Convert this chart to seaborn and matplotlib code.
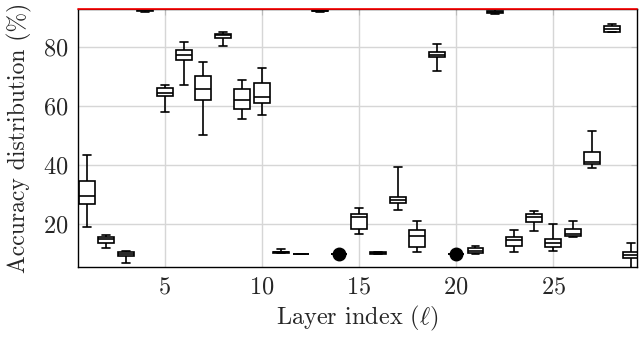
import matplotlib
matplotlib.use("Agg")
import matplotlib.pyplot as plt
import seaborn as sns
import numpy as np
import pandas as pd

# Per-layer box statistics (accuracy in %)
layers = list(range(1, 30))
whisker_low = [19.1, 11.8, 6.7, 91.9, 57.9, 67.1, 50.2, 80.3, 55.8, 57.0,
               10.2, 10.0, 92.0, 10.0, 16.8, 9.9, 24.7, 10.6, 72.0, 10.0,
               10.0, 91.2, 10.6, 17.6, 10.8, 15.7, 38.9, 85.0, 4.0]
q1 = [26.8, 13.5, 9.3, 92.2, 63.5, 75.6, 62.0, 83.2, 59.0, 61.1,
      10.3, 10.0, 92.2, 10.0, 18.5, 10.0, 27.0, 12.3, 76.5, 10.0,
      10.2, 91.7, 12.6, 20.6, 12.3, 15.9, 40.3, 85.2, 8.4]
median = [29.5, 14.9, 10.0, 92.5, 64.5, 77.3, 65.7, 84.1, 62.0, 63.2,
          10.5, 10.0, 92.4, 10.0, 22.5, 10.2, 28.1, 16.0, 77.3, 10.0,
          11.0, 92.0, 14.6, 22.3, 13.7, 16.8, 41.1, 86.3, 9.5]
q3 = [34.6, 15.7, 10.5, 92.8, 66.0, 79.2, 70.3, 84.6, 65.8, 67.7,
      10.7, 10.0, 92.7, 10.0, 23.6, 10.4, 29.3, 18.0, 78.2, 10.0,
      11.8, 92.4, 15.7, 23.6, 14.9, 18.5, 44.5, 87.1, 10.6]
whisker_high = [43.6, 16.3, 11.0, 93.4, 67.1, 81.6, 75.0, 85.2, 68.8, 72.8,
                11.5, 10.0, 93.3, 10.0, 25.3, 10.6, 39.2, 21.1, 80.9, 10.0,
                12.6, 92.9, 18.0, 24.5, 20.0, 21.0, 51.6, 88.0, 13.5]

dot_layers = [14, 20]
dot_values = [10.0, 10.0]
reference_acc = 92.9

# five points per layer reproduce the quartiles exactly; whiskers go to min/max
rows = []
for i, layer in enumerate(layers):
    for v in (whisker_low[i], q1[i], median[i], q3[i], whisker_high[i]):
        rows.append({"layer": layer, "acc": v})
df = pd.DataFrame(rows)

sns.set_style("whitegrid")
plt.rcParams["font.family"] = "serif"
plt.rcParams["font.serif"] = ["cmr10", "DejaVu Serif"]
plt.rcParams["mathtext.fontset"] = "cm"
plt.rcParams["axes.formatter.use_mathtext"] = True

fig = plt.figure(figsize=(6.4, 3.37), dpi=100)
ax = fig.add_axes([0.122, 0.208, 0.873, 0.765])

sns.boxplot(data=df, x="layer", y="acc", native_scale=True, whis=(0, 100),
            width=0.82, color="white", linecolor="black", linewidth=1.2,
            showfliers=False, ax=ax)
ax.plot(dot_layers, dot_values, "o", color="black", markersize=9, zorder=5)
ax.axhline(reference_acc, color="red", linewidth=1.2, zorder=10, clip_on=False)

ax.set_xlim(0.55, 29.3)
ax.set_ylim(5.5, reference_acc)
ax.set_xticks([5, 10, 15, 20, 25])
ax.set_yticks([20, 40, 60, 80])
ax.grid(True, color="#d6d6d6", linewidth=1.0)
ax.set_axisbelow(True)
for side, spine in ax.spines.items():
    spine.set_color("black")
    spine.set_linewidth(1.0)
ax.tick_params(direction="in", length=4, color="#bbbbbb", labelsize=17.5,
               top=True, right=True, pad=7)
ax.set_xlabel(r"Layer index ($\ell$)", fontsize=17.5, labelpad=4)
ax.set_ylabel("Accuracy distribution (%)", fontsize=17, labelpad=8)

fig.savefig("out.png", dpi=100)
